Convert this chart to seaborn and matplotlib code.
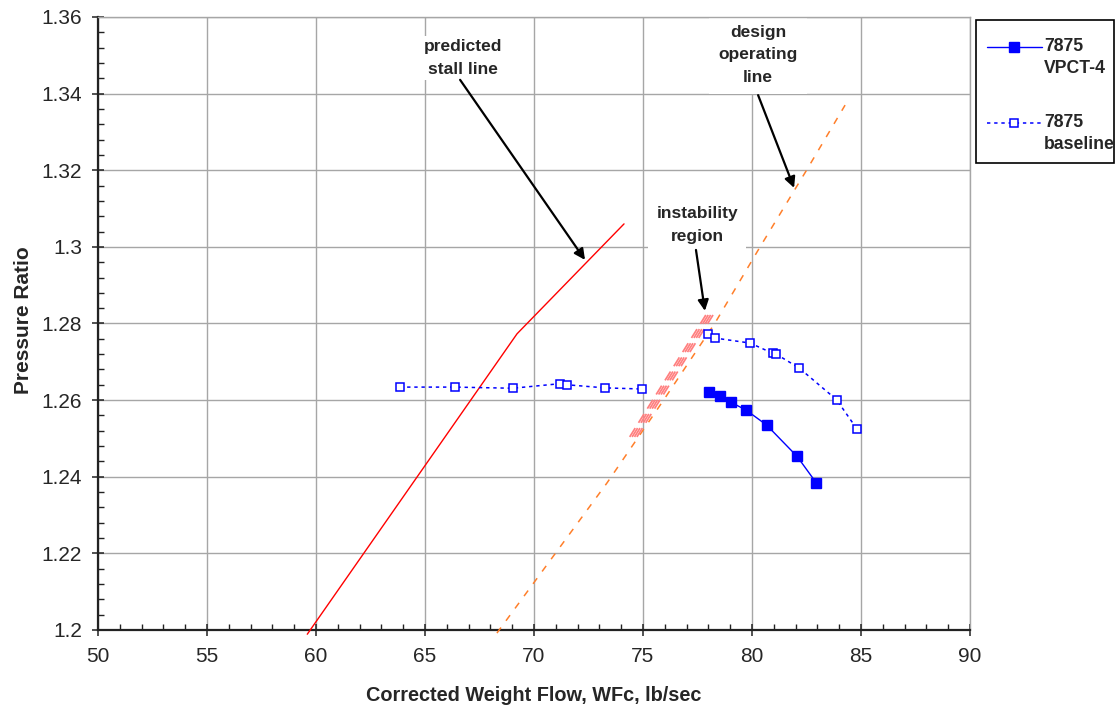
import numpy as np
import pandas as pd
import matplotlib
matplotlib.use("Agg")
import matplotlib.pyplot as plt
from matplotlib.ticker import MultipleLocator, FixedLocator, FixedFormatter
from matplotlib.legend_handler import HandlerLine2D
from matplotlib.patches import Rectangle
import seaborn as sns

# ---- data: corrected weight flow (lb/sec) vs. pressure ratio ----
vpct4_flow = [78.01, 78.53, 79.05, 79.73, 80.67, 82.07, 82.95]
vpct4_pr = [1.2620, 1.2612, 1.2594, 1.2574, 1.2535, 1.2453, 1.2384]

baseline_low_flow = [63.85, 66.39, 69.02, 71.21, 71.53, 73.25, 74.96]
baseline_low_pr = [1.2634, 1.2634, 1.2631, 1.2643, 1.2640, 1.2632, 1.2629]
baseline_high_flow = [77.97, 78.30, 79.91, 80.96, 81.11, 82.16, 83.88, 84.81]
baseline_high_pr = [1.2773, 1.2762, 1.2749, 1.2722, 1.2720, 1.2684, 1.2601, 1.2525]

stall_flow = [59.60, 69.22, 74.13]
stall_pr = [1.1989, 1.2773, 1.3060]

oper_flow = [68.30, 73.35, 75.92, 78.30, 80.37, 82.48, 84.27]
oper_pr = [1.1992, 1.2384, 1.2598, 1.2801, 1.3000, 1.3198, 1.3370]

instab_flow = [74.56, 78.17]
instab_pr = [1.2504, 1.2833]

x_ticks = [50, 55, 60, 65, 70, 75, 80, 85, 90]
x_tick_labels = ["50", "55", "60", "65", "70", "75", "80", "85", "90"]
y_ticks = [1.20, 1.22, 1.24, 1.26, 1.28, 1.30, 1.32, 1.34, 1.36]
y_tick_labels = ["1.2", "1.22", "1.24", "1.26", "1.28", "1.3", "1.32", "1.34", "1.36"]

series_labels = ["7875\nVPCT-4", "7875\nbaseline"]

# ---- style ----
sns.set_style("white")
plt.rcParams["font.family"] = ["Liberation Sans", "DejaVu Sans"]

W, H = 1115, 710
fig = plt.figure(figsize=(W / 100, H / 100), dpi=100)
left, right, top, bottom = 98, 970, 17, 630
ax = fig.add_axes([left / W, 1 - bottom / H, (right - left) / W, (bottom - top) / H])

blue = "#0000FF"
grid_col = "#A6A6A6"

# stall line
sns.lineplot(x=stall_flow, y=stall_pr, ax=ax, estimator=None, sort=False,
             color="#FF0000", lw=1.0, clip_on=False, zorder=3)

# design operating line
sns.lineplot(x=oper_flow, y=oper_pr, ax=ax, estimator=None, sort=False,
             color="#FF7F2A", lw=1.1, linestyle=(0, (4.5, 5.5)), clip_on=False, zorder=3)

# instability band: several thin dashed strokes side by side
for off in (-0.17, -0.06, 0.05, 0.16):
    sns.lineplot(x=np.asarray(instab_flow) + off, y=instab_pr, ax=ax, estimator=None,
                 sort=False, color="#FF7F7F", lw=1.25, linestyle=(0, (6, 3.6)), zorder=3)

# baseline (open squares, dotted)
base_kw = dict(color=blue, lw=1.1, linestyle=(0, (2.2, 2.5)), marker="s", markersize=6.3,
               markerfacecolor="white", markeredgecolor=blue, markeredgewidth=1.1,
               estimator=None, sort=False, zorder=4)
sns.lineplot(x=baseline_low_flow, y=baseline_low_pr, ax=ax, **base_kw)
sns.lineplot(x=baseline_high_flow, y=baseline_high_pr, ax=ax, **base_kw)

# VPCT-4 (filled squares, solid)
sns.lineplot(x=vpct4_flow, y=vpct4_pr, ax=ax, color=blue, lw=1.0, marker="s",
             markersize=7, markerfacecolor=blue, markeredgecolor=blue,
             markeredgewidth=1.0, estimator=None, sort=False, zorder=5)

# ---- axes ----
ax.set_xlim(50, 90)
ax.set_ylim(1.2, 1.36)
ax.xaxis.set_major_locator(FixedLocator(x_ticks))
ax.xaxis.set_major_formatter(FixedFormatter(x_tick_labels))
ax.yaxis.set_major_locator(FixedLocator(y_ticks))
ax.yaxis.set_major_formatter(FixedFormatter(y_tick_labels))
ax.xaxis.set_minor_locator(MultipleLocator(1))
ax.yaxis.set_minor_locator(MultipleLocator(0.004))

ax.grid(True, which="major", color=grid_col, lw=1.0)
ax.set_axisbelow(True)
for s in ("top", "right"):
    ax.spines[s].set_color(grid_col)
    ax.spines[s].set_linewidth(1.0)
ax.spines["top"].set_zorder(7)
for s in ("left", "bottom"):
    ax.spines[s].set_color("#222222")
    ax.spines[s].set_linewidth(1.6)

ax.tick_params(which="both", top=False, right=False, left=True, bottom=True, color="#222222")
ax.tick_params(which="major", direction="inout", length=9, width=1.1, labelsize=15)
ax.tick_params(axis="y", which="major", pad=7)
ax.tick_params(axis="x", which="major", pad=8)
ax.tick_params(which="minor", direction="in", length=4.5, width=1.0)

ax.set_xlabel("Corrected Weight Flow, WFc, lb/sec", fontsize=14.3, fontweight="bold")
ax.set_ylabel("Pressure Ratio", fontsize=15, fontweight="bold")
ax.xaxis.set_label_coords(0.5, -0.0914)
ax.yaxis.set_label_coords(-0.0745, 0.505)

# ---- callouts ----
txt_kw = dict(fontsize=12.5, fontweight="bold", ha="center", va="center",
              linespacing=1.6, zorder=6)
arrow_kw = dict(arrowstyle="-|>", color="black", lw=1.6, mutation_scale=16,
                shrinkA=0, shrinkB=0)

ax.text(66.74, 1.3493, "predicted\nstall line",
        bbox=dict(boxstyle="square,pad=0.2", facecolor="white", edgecolor="none"), **txt_kw)
ax.annotate("", xy=(72.34, 1.2966), xytext=(66.61, 1.3436), arrowprops=arrow_kw, zorder=6)

ax.text(80.28, 1.3501, "design\noperating\nline",
        bbox=dict(boxstyle="square,pad=0.55", facecolor="white", edgecolor="none"), **txt_kw)
ax.annotate("", xy=(81.93, 1.3154), xytext=(80.28, 1.3396), arrowprops=arrow_kw, zorder=6)

ax.text(77.48, 1.3057, "instability\nregion",
        bbox=dict(boxstyle="square,pad=0.45", facecolor="white", edgecolor="none"), **txt_kw)
ax.annotate("", xy=(77.84, 1.2833), xytext=(77.43, 1.2992), arrowprops=arrow_kw, zorder=6)


# ---- legend ----
class FirstLineHandler(HandlerLine2D):
    """Place the legend key level with the first line of a two-line label."""
    def __init__(self, shift, **kw):
        super().__init__(**kw)
        self.shift = shift

    def create_artists(self, legend, orig_handle, xdescent, ydescent, width, height,
                       fontsize, trans):
        return super().create_artists(legend, orig_handle, xdescent, ydescent, width,
                                      height + 2 * self.shift, fontsize, trans)


lines = ax.get_lines()
h_vpct = lines[-1]
h_base = lines[-2]
handler = FirstLineHandler(7.8, numpoints=1)
leg = fig.legend([h_vpct, h_base], series_labels, loc="upper left",
                 bbox_to_anchor=(987 / W, 1 - 38 / H), frameon=False, borderpad=0,
                 borderaxespad=0, handlelength=3.1, handletextpad=0.12,
                 labelspacing=2.05, prop=dict(size=12.7, weight="bold"),
                 handler_map={h_vpct: handler, h_base: handler})
for t in leg.get_texts():
    t.set_linespacing(1.42)

fig.add_artist(Rectangle((976 / W, 1 - 163 / H), 138 / W, 143 / H, transform=fig.transFigure,
                         fill=False, edgecolor="black", lw=1.2))

fig.savefig("out.png", dpi=100)
